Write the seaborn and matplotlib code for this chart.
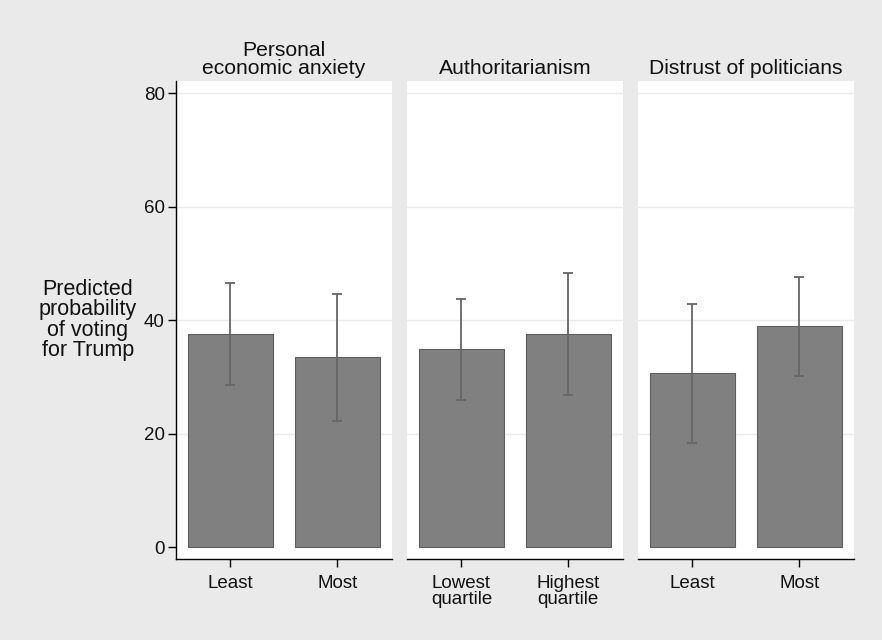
import numpy as np
import pandas as pd
import seaborn as sns
import matplotlib.pyplot as plt

# values
panels = ["Personal\neconomic anxiety", "Authoritarianism", "Distrust of politicians"]
levels = [["Least", "Most"],
          ["Lowest\nquartile", "Highest\nquartile"],
          ["Least", "Most"]]
probs = [[37.6, 33.5], [34.9, 37.6], [30.7, 39.0]]
ci_low = [[28.5, 22.2], [26.0, 26.8], [18.4, 30.2]]
ci_high = [[46.6, 44.7], [43.7, 48.3], [42.9, 47.7]]
yticks = [0, 20, 40, 60, 80]

sns.set_theme(style="white")
plt.rcParams['font.family'] = ['Liberation Sans', 'DejaVu Sans']

bg = "#eaeaea"
fig, axes = plt.subplots(1, 3, figsize=(8.82, 6.40), dpi=100, sharey=True)
fig.patch.set_facecolor(bg)
fig.subplots_adjust(left=0.1995, right=0.968, bottom=0.1266, top=0.8734, wspace=0.07)

for i, ax in enumerate(axes):
    df = pd.DataFrame({"level": levels[i], "prob": probs[i]})
    sns.barplot(data=df, x="level", y="prob", ax=ax, color="#808080",
                saturation=1, width=0.8, errorbar=None,
                edgecolor="#5e5e5e", linewidth=0.8, zorder=2)
    p = np.array(probs[i])
    err = [p - np.array(ci_low[i]), np.array(ci_high[i]) - p]
    ax.errorbar(range(2), p, yerr=err, fmt="none", ecolor="#666666",
                elinewidth=1.3, capsize=3.3, capthick=1.3, zorder=3)
    ax.set_facecolor("white")
    ax.set_xlim(-0.51, 1.51)
    ax.set_ylim(-2.1, 82.2)
    for g in yticks[1:]:
        ax.axhline(g, color="#eaeaea", lw=1, zorder=1)
    ax.set_title(panels[i], fontsize=15.2, pad=5, color="#111111",
                 linespacing=0.95)
    ax.set_xlabel("")
    ax.set_ylabel("")
    for s in ["top", "right"]:
        ax.spines[s].set_visible(False)
    ax.spines["bottom"].set_color("black")
    ax.spines["bottom"].set_linewidth(1)
    ax.tick_params(axis="x", bottom=True, length=6, width=1, color="black",
                   labelsize=13.5, pad=5.5, labelcolor="#111111")
    for lab in ax.get_xticklabels():
        lab.set_linespacing(0.95)
    if i == 0:
        ax.spines["left"].set_color("black")
        ax.spines["left"].set_linewidth(1)
        ax.set_yticks(yticks)
        ax.tick_params(axis="y", left=True, length=6, width=1, color="black",
                       labelsize=13.5, pad=2, labelcolor="#111111")
    else:
        ax.spines["left"].set_visible(False)
        ax.tick_params(axis="y", left=False)

fig.text(0.0995, 0.5, "Predicted\nprobability\nof voting\nfor Trump",
         ha="center", va="center", fontsize=15.5, color="#111111",
         linespacing=0.95)

fig.savefig("out.png", dpi=100, facecolor=bg)
